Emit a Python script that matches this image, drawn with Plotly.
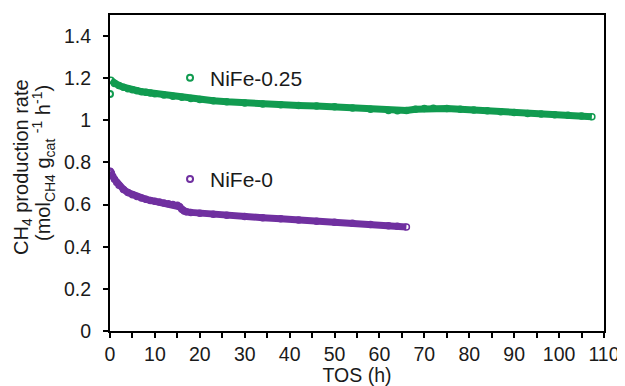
import plotly.graph_objects as go

# ---------------- data ----------------
green_name = "NiFe-0.25"
green_t = [0.2, 1, 2, 3, 4, 5, 6, 7, 8, 9, 10, 12, 14, 16, 18, 20, 23, 26, 30, 34, 38, 42,
           46, 50, 54, 58, 62, 64, 66, 68, 70, 72, 75, 78, 81, 84, 87, 90, 93, 96, 99,
           102, 105, 107.3]
green_v = [1.19, 1.175, 1.165, 1.157, 1.15, 1.145, 1.14, 1.136, 1.133, 1.13, 1.126, 1.12,
           1.114, 1.109, 1.104, 1.099, 1.093, 1.088, 1.082, 1.077, 1.074, 1.071, 1.068,
           1.064, 1.059, 1.053, 1.047, 1.045, 1.047, 1.053, 1.056, 1.057, 1.056, 1.053,
           1.049, 1.045, 1.041, 1.037, 1.033, 1.030, 1.027, 1.024, 1.020, 1.017]
green_first_t = [0.0]
green_first_v = [1.125]

purple_name = "NiFe-0"
purple_t = [0, 0.3, 0.6, 1, 1.5, 2, 3, 4, 5, 6, 7, 8, 9, 10, 11, 12, 13, 14, 15, 15.5, 16,
            16.5, 17, 18, 20, 23, 26, 30, 34, 38, 42, 46, 50, 54, 58, 62, 64, 66]
purple_v = [0.757, 0.75, 0.735, 0.72, 0.705, 0.692, 0.672, 0.657, 0.647, 0.638, 0.631,
            0.625, 0.62, 0.616, 0.612, 0.608, 0.604, 0.601, 0.597, 0.59, 0.578, 0.57,
            0.566, 0.563, 0.559, 0.554, 0.549, 0.543, 0.538, 0.533, 0.527, 0.521, 0.516,
            0.511, 0.506, 0.5, 0.497, 0.494]

x_title = "TOS (h)"
y_title_line1 = "CH<sub>4</sub> production rate"
y_title_line2 = "(mol<sub>CH4</sub> g<sub>cat</sub> <sup>-1</sup> h<sup>-1</sup>)"

GREEN = "#119B50"
PURPLE = "#7030A0"
FONT = "Liberation Sans, Arial, sans-serif"
TXT = "#1a1a1a"

fig = go.Figure()


def band(t, v, color):
    return go.Scatter(x=t, y=v, mode="lines+markers", showlegend=False,
                      line=dict(color=color, width=7),
                      marker=dict(symbol="circle-open", size=6, color=color,
                                  line=dict(width=1.5, color=color)),
                      hoverinfo="skip")


def dot(t, v, color, name, legend):
    return go.Scatter(x=t, y=v, mode="markers", name=name, legend=legend,
                      marker=dict(symbol="circle-open", size=6, color=color,
                                  line=dict(width=2, color=color)))


fig.add_trace(band(green_t, green_v, GREEN))
fig.add_trace(dot(green_first_t, green_first_v, GREEN, green_name, "legend"))
fig.add_trace(band(purple_t, purple_v, PURPLE))
fig.add_trace(dot([purple_t[0]], [purple_v[0]], PURPLE, purple_name, "legend2"))

axis_common = dict(showline=True, linecolor="black", linewidth=2, mirror=True,
                   ticks="outside", ticklen=5, tickwidth=2, tickcolor="black",
                   showgrid=False, zeroline=False, automargin=False,
                   tickfont=dict(family=FONT, size=19.5, color=TXT))

fig.update_xaxes(range=[0, 110], dtick=10, tick0=0,
                 minor=dict(ticks="outside", dtick=5, ticklen=5, tickwidth=2,
                            tickcolor="black", showgrid=False),
                 title=dict(text=x_title, font=dict(family=FONT, size=19.5, color=TXT),
                            standoff=2),
                 **axis_common)
fig.update_yaxes(range=[0, 1.5], dtick=0.2, tick0=0,
                 ticklabelstandoff=8,
                 **axis_common)

# two-line y-axis title (tighter line spacing than plotly's <br>)
title_font = dict(family=FONT, size=20, color=TXT)
fig.add_annotation(text=y_title_line1, xref="paper", yref="paper", x=0, y=0.5,
                   xanchor="center", yanchor="middle", textangle=-90, showarrow=False,
                   xshift=-88, yshift=6, font=title_font)
fig.add_annotation(text=y_title_line2, xref="paper", yref="paper", x=0, y=0.5,
                   xanchor="center", yanchor="middle", textangle=-90, showarrow=False,
                   xshift=-67, yshift=10, font=title_font)

legend_common = dict(bgcolor="rgba(0,0,0,0)", borderwidth=0, xanchor="left",
                     yanchor="middle", font=dict(family=FONT, size=21, color=TXT),
                     itemsizing="trace")
# The page body has an 8px default margin, so the figure is sized/offset to compensate.
fig.update_layout(
    width=617, height=378,
    margin=dict(l=102, r=21, t=7, b=55),
    paper_bgcolor="white", plot_bgcolor="white",
    showlegend=True,
    legend=dict(x=0.1215, y=0.80, **legend_common),
    legend2=dict(x=0.1215, y=0.48, **legend_common),
)

fig.write_html("out.html")
